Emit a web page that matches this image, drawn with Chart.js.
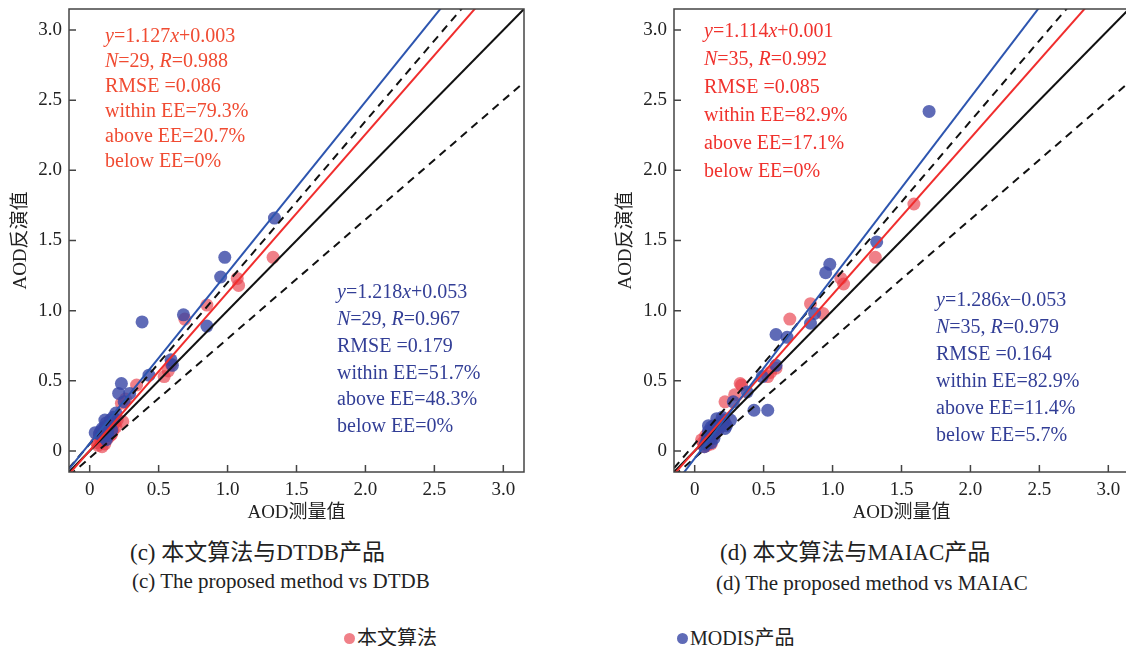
<!DOCTYPE html>
<html>
<head>
<meta charset="utf-8">
<script src="https://cdn.jsdelivr.net/npm/chart.js@4.4.1/dist/chart.umd.min.js"></script>
<style>
    body { margin: 0; width: 1126px; height: 646px; overflow: hidden; background: #fff; position: relative;
           font-family: "Liberation Serif", "Noto Sans CJK SC", serif; color: #222; }
    .box { position: absolute; top: 0; width: 540px; height: 530px; }
    .cap { position: absolute; font-size: 21px; white-space: nowrap; }
    .cap.zh { font-size: 23px; }
    .leg { position: absolute; top: 622px; font-size: 20px; white-space: nowrap; }
    .dot { display: inline-block; width: 11px; height: 11px; border-radius: 50%; margin-right: 2px; vertical-align: 1px; }
</style>
</head>
<body>
<div class="box" style="left:0px"><canvas id="chartDTDB"></canvas></div>
<div class="box" style="left:605px"><canvas id="chartMAIAC"></canvas></div>

<div class="cap zh" style="left:130px;top:533px">(c) 本文算法与DTDB产品</div>
<div class="cap" style="left:132px;top:569px">(c) The proposed method vs DTDB</div>
<div class="cap zh" style="left:720px;top:533px">(d) 本文算法与MAIAC产品</div>
<div class="cap" style="left:716px;top:571px">(d) The proposed method vs MAIAC</div>

<div class="leg" style="left:344px"><span class="dot" style="background:rgba(232,60,72,0.65)"></span>本文算法</div>
<div class="leg" style="left:677px"><span class="dot" style="background:rgba(55,70,165,0.8)"></span>MODIS产品</div>

<script>
// axis setup shared by both panels
const axisRange = [-0.15, 3.15];
const axisTicks = [0, 0.5, 1.0, 1.5, 2.0, 2.5, 3.0];

// reference lines: [slope, intercept]
const oneToOne = [1, 0];
const eeUpper = [1.15, 0.05];
const eeLower = [0.85, -0.05];

// (c) DTDB panel
const dtdbOursX = [1.33, 1.07, 1.08, 0.85, 0.69, 0.59, 0.57, 0.54, 0.34, 0.23, 0.24, 0.19, 0.15, 0.10, 0.06,
                   0.09, 0.12, 0.13, 0.17, 0.14, 0.08, 0.11, 0.20, 0.16, 0.07, 0.26, 0.12, 0.18, 0.05];
const dtdbOursY = [1.38, 1.23, 1.18, 1.04, 0.94, 0.62, 0.57, 0.53, 0.47, 0.34, 0.21, 0.17, 0.11, 0.07, 0.04,
                   0.03, 0.13, 0.09, 0.15, 0.18, 0.08, 0.05, 0.22, 0.12, 0.10, 0.37, 0.16, 0.20, 0.06];
const dtdbModisX = [1.34, 0.98, 0.95, 0.38, 0.68, 0.85, 0.59, 0.60, 0.43, 0.23, 0.21, 0.29, 0.25, 0.19, 0.11,
                    0.04, 0.07, 0.09, 0.12, 0.14, 0.10, 0.13, 0.16, 0.12, 0.08, 0.17, 0.15, 0.11, 0.13];
const dtdbModisY = [1.66, 1.38, 1.24, 0.92, 0.97, 0.89, 0.65, 0.61, 0.54, 0.48, 0.41, 0.41, 0.35, 0.27, 0.22,
                    0.13, 0.12, 0.16, 0.20, 0.18, 0.10, 0.14, 0.15, 0.08, 0.14, 0.24, 0.22, 0.17, 0.11];
const dtdbOursFit = [1.127, 0.003];
const dtdbModisFit = [1.218, 0.053];
const dtdbOursStats = ['*y*=1.127*x*+0.003', '*N*=29, *R*=0.988', 'RMSE =0.086',
                       'within EE=79.3%', 'above EE=20.7%', 'below EE=0%'];
const dtdbModisStats = ['*y*=1.218*x*+0.053', '*N*=29, *R*=0.967', 'RMSE =0.179',
                        'within EE=51.7%', 'above EE=48.3%', 'below EE=0%'];

// (d) MAIAC panel
const maiacOursX = [1.59, 1.31, 1.06, 1.08, 0.84, 0.69, 0.93, 0.59, 0.53, 0.55, 0.34, 0.33, 0.29, 0.22, 0.20,
                    0.17, 0.15, 0.12, 0.10, 0.08, 0.06, 0.09, 0.07, 0.12, 0.14, 0.18, 0.11, 0.13, 0.10, 0.16,
                    0.05, 0.08, 0.22, 0.20, 0.12];
const maiacOursY = [1.76, 1.38, 1.23, 1.19, 1.05, 0.94, 0.98, 0.59, 0.53, 0.56, 0.47, 0.48, 0.40, 0.35, 0.22,
                    0.19, 0.16, 0.13, 0.10, 0.07, 0.06, 0.04, 0.03, 0.09, 0.11, 0.17, 0.12, 0.16, 0.06, 0.14,
                    0.08, 0.11, 0.20, 0.18, 0.05];
const maiacModisX = [1.70, 1.32, 0.98, 0.95, 0.87, 0.84, 0.59, 0.67, 0.59, 0.49, 0.38, 0.43, 0.53, 0.28, 0.26,
                     0.23, 0.20, 0.18, 0.16, 0.14, 0.12, 0.10, 0.11, 0.13, 0.15, 0.09, 0.08, 0.12, 0.17, 0.19,
                     0.21, 0.22, 0.10, 0.14, 0.07];
const maiacModisY = [2.42, 1.49, 1.33, 1.27, 0.98, 0.91, 0.83, 0.81, 0.61, 0.53, 0.42, 0.29, 0.29, 0.35, 0.22,
                     0.18, 0.24, 0.20, 0.23, 0.18, 0.17, 0.14, 0.10, 0.12, 0.15, 0.08, 0.05, 0.06, 0.15, 0.19,
                     0.22, 0.16, 0.18, 0.09, 0.03];
const maiacOursFit = [1.114, 0.001];
const maiacModisFit = [1.286, -0.053];
const maiacOursStats = ['*y*=1.114*x*+0.001', '*N*=35, *R*=0.992', 'RMSE =0.085',
                        'within EE=82.9%', 'above EE=17.1%', 'below EE=0%'];
const maiacModisStats = ['*y*=1.286*x*\u22120.053', '*N*=35, *R*=0.979', 'RMSE =0.164',
                         'within EE=82.9%', 'above EE=11.4%', 'below EE=5.7%'];

const FONT = '"Liberation Serif", "Noto Sans CJK SC", serif';
const RED_PT = 'rgba(232,60,72,0.65)';
const BLUE_PT = 'rgba(55,70,165,0.8)';

// draws text where *...* parts are italic
function drawRich(ctx, text, x, y, color) {
    ctx.fillStyle = color;
    ctx.textBaseline = 'middle';
    ctx.textAlign = 'left';
    text.split('*').forEach((part, i) => {
        ctx.font = (i % 2 ? 'italic ' : '') + '20px ' + FONT;
        ctx.fillText(part, x, y);
        x += ctx.measureText(part).width;
    });
}

// frame, inward ticks and the stats text blocks
const framePlugin = {
    id: 'frame',
    afterDatasetsDraw(chart, args, opts) {
        const { ctx, chartArea: a, scales } = chart;
        ctx.save();
        ctx.strokeStyle = '#444';
        ctx.lineWidth = 1.5;
        ctx.strokeRect(a.left, a.top, a.right - a.left, a.bottom - a.top);
        ctx.beginPath();
        axisTicks.forEach(v => {
            const px = scales.x.getPixelForValue(v);
            ctx.moveTo(px, a.bottom);
            ctx.lineTo(px, a.bottom - 7);
            const py = scales.y.getPixelForValue(v);
            ctx.moveTo(a.left, py);
            ctx.lineTo(a.left + 7, py);
        });
        ctx.stroke();
        opts.blocks.forEach(b => {
            b.lines.forEach((line, i) => drawRich(ctx, line, a.left + b.dx, a.top + b.dy + i * b.step, b.color));
        });
        ctx.restore();
    }
};

function linePoints(coef) {
    return axisRange.map(x => ({ x: x, y: coef[0] * x + coef[1] }));
}

function toPoints(xs, ys) {
    return xs.map((x, i) => ({ x: x, y: ys[i] }));
}

function lineSet(coef, color, dash) {
    return {
        type: 'scatter', showLine: true, data: linePoints(coef), borderColor: color,
        borderWidth: 2, borderDash: dash || [], pointRadius: 0, order: 0
    };
}

function axisOptions(title, isX) {
    return {
        type: 'linear',
        min: axisRange[0],
        max: axisRange[1],
        afterBuildTicks: s => { s.ticks = axisTicks.map(v => ({ value: v })); },
        afterFit: s => {
            // fixed axis sizes, no extra label padding so the plot box stays put
            if (isX) s.height = 58; else s.width = 69;
            s.paddingTop = 0; s.paddingBottom = 0; s.paddingLeft = 0; s.paddingRight = 0;
        },
        grid: { display: false, drawTicks: false },
        border: { display: false },
        ticks: {
            padding: 7, color: '#222', autoSkip: false, maxRotation: 0,
            font: { family: FONT, size: 19 },
            callback: v => v === 0 ? '0' : v.toFixed(1)
        },
        title: {
            display: true, text: title, color: '#222',
            font: { family: FONT, size: 19 },
            padding: isX ? { top: 0, bottom: 6 } : { top: 10, bottom: 0 }
        }
    };
}

function makeChart(id, oursX, oursY, modisX, modisY, oursFit, modisFit, blocks) {
    const ctx = document.getElementById(id).getContext('2d');
    return new Chart(ctx, {
        type: 'scatter',
        data: {
            datasets: [
                lineSet(modisFit, 'rgb(45,85,175)'),
                lineSet(oursFit, 'rgb(240,45,45)'),
                lineSet(oneToOne, '#111'),
                lineSet(eeUpper, '#111', [8, 6]),
                lineSet(eeLower, '#111', [8, 6]),
                { data: toPoints(modisX, modisY), backgroundColor: BLUE_PT, borderWidth: 0, pointRadius: 6.5, order: 1 },
                { data: toPoints(oursX, oursY), backgroundColor: RED_PT, borderWidth: 0, pointRadius: 6.5, order: 2 }
            ]
        },
        options: {
            responsive: false,
            animation: false,
            layout: { padding: { top: 9, right: 16, left: 0, bottom: 0 } },
            plugins: { legend: { display: false }, tooltip: { enabled: false }, frame: { blocks: blocks } },
            scales: { x: axisOptions('AOD测量值', true), y: axisOptions('AOD反演值', false) }
        },
        plugins: [framePlugin]
    });
}

document.addEventListener('DOMContentLoaded', function() {
    ['chartDTDB', 'chartMAIAC'].forEach(id => {
        const c = document.getElementById(id);
        c.width = 540;
        c.height = 530;
    });

    makeChart('chartDTDB', dtdbOursX, dtdbOursY, dtdbModisX, dtdbModisY, dtdbOursFit, dtdbModisFit, [
        { lines: dtdbOursStats, color: 'rgb(240,75,50)', dx: 36, dy: 28, step: 25 },
        { lines: dtdbModisStats, color: 'rgb(50,62,150)', dx: 268, dy: 284, step: 26.8 }
    ]);
    makeChart('chartMAIAC', maiacOursX, maiacOursY, maiacModisX, maiacModisY, maiacOursFit, maiacModisFit, [
        { lines: maiacOursStats, color: 'rgb(240,50,45)', dx: 30, dy: 23, step: 28 },
        { lines: maiacModisStats, color: 'rgb(50,62,150)', dx: 262, dy: 292, step: 27 }
    ]);
});
</script>
</body>
</html>
